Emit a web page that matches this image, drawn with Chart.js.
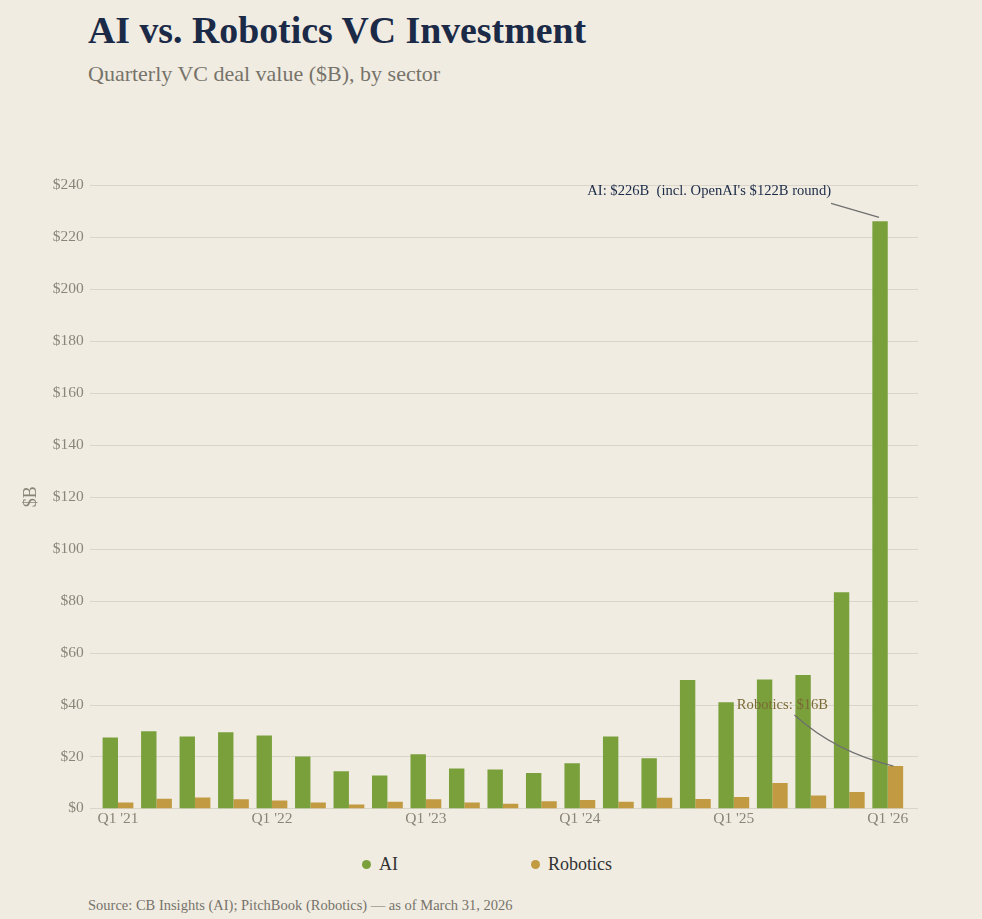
<!DOCTYPE html>
<html>
<head>
<meta charset="utf-8">
<script src="https://cdn.jsdelivr.net/npm/chart.js@4/dist/chart.umd.min.js"></script>
<style>
  html, body { margin: 0; padding: 0; background: #f0ece2; }
  body { width: 982px; height: 919px; position: relative; overflow: hidden; font-family: "Liberation Serif", serif; }
  #title { position: absolute; left: 88px; top: 10px; font-size: 37.8px; line-height: 40px; font-weight: bold; color: #1b2a47; white-space: nowrap; }
  #subtitle { position: absolute; left: 88px; top: 61px; font-size: 22px; line-height: 26px; color: #77736a; white-space: nowrap; }
  #wrap { position: absolute; left: 0; top: 0; width: 982px; height: 845px; }
  #legend { position: absolute; left: -4px; width: 982px; top: 852px; height: 24px; display: flex; justify-content: center; gap: 133px; font-size: 18px; color: #333333; }
  .item { display: flex; align-items: center; white-space: nowrap; }
  .dot { width: 9px; height: 9px; border-radius: 50%; margin-right: 8px; display: inline-block; }
  #source { position: absolute; left: 88px; top: 896px; font-size: 14.5px; line-height: 18px; color: #77736a; white-space: nowrap; }
</style>
</head>
<body>
<div id="title">AI vs. Robotics VC Investment</div>
<div id="subtitle">Quarterly VC deal value ($B), by sector</div>
<div id="wrap"><canvas id="c"></canvas></div>
<div id="legend"></div>
<div id="source">Source: CB Insights (AI); PitchBook (Robotics) — as of March 31, 2026</div>
<script>
const quarters = ["Q1 '21","Q2 '21","Q3 '21","Q4 '21","Q1 '22","Q2 '22","Q3 '22","Q4 '22","Q1 '23","Q2 '23","Q3 '23","Q4 '23","Q1 '24","Q2 '24","Q3 '24","Q4 '24","Q1 '25","Q2 '25","Q3 '25","Q4 '25","Q1 '26"];
const aiValues = [27.3, 29.7, 27.7, 29.3, 28.1, 20.0, 14.3, 12.7, 20.8, 15.4, 15.0, 13.6, 17.4, 27.7, 19.3, 49.4, 40.9, 49.6, 51.4, 83.2, 226];
const roboticsValues = [2.3, 3.7, 4.2, 3.5, 3.0, 2.3, 1.5, 2.6, 3.5, 2.3, 1.8, 2.8, 3.2, 2.6, 4.1, 3.6, 4.4, 9.8, 5.0, 6.3, 16.3];
const seriesNames = ["AI", "Robotics"];
const seriesColors = ["#7aa03c", "#c19a42"];
const yTicks = [0, 20, 40, 60, 80, 100, 120, 140, 160, 180, 200, 220, 240];
const aiNote = "AI: $226B  (incl. OpenAI's $122B round)";
const roboticsNote = "Robotics: $16B";

const FONT = "'Liberation Serif', serif";

const gridPlugin = {
  id: 'customGrid',
  beforeDatasetsDraw(chart) {
    const ctx = chart.ctx, y = chart.scales.y;
    ctx.save();
    ctx.strokeStyle = '#d9d5ca';
    ctx.lineWidth = 1;
    yTicks.forEach(v => {
      const py = Math.round(y.getPixelForValue(v)) + 0.5;
      ctx.beginPath();
      ctx.moveTo(90, py);
      ctx.lineTo(918, py);
      ctx.stroke();
    });
    ctx.restore();
  }
};

const notePlugin = {
  id: 'notes',
  afterDatasetsDraw(chart) {
    const ctx = chart.ctx;
    const last = quarters.length - 1;
    const aiBar = chart.getDatasetMeta(0).data[last];
    const roBar = chart.getDatasetMeta(1).data[last];
    ctx.save();
    ctx.font = "14.6px " + FONT;
    ctx.textBaseline = 'middle';
    ctx.fillStyle = '#1b2a47';
    ctx.textAlign = 'right';
    ctx.fillText(aiNote, aiBar.x - 49, aiBar.y - 30);
    ctx.strokeStyle = '#6f6f6f';
    ctx.lineWidth = 1.2;
    ctx.beginPath();
    ctx.moveTo(aiBar.x - 49, aiBar.y - 18);
    ctx.lineTo(aiBar.x - 1, aiBar.y - 4);
    ctx.stroke();
    ctx.fillStyle = '#7a6a35';
    ctx.textAlign = 'center';
    ctx.fillText(roboticsNote, roBar.x - 113, roBar.y - 61);
    ctx.beginPath();
    ctx.moveTo(roBar.x - 101, roBar.y - 51);
    ctx.quadraticCurveTo(roBar.x - 60, roBar.y - 14, roBar.x - 2, roBar.y);
    ctx.stroke();
    ctx.restore();
  }
};

const chart = new Chart(document.getElementById('c'), {
  type: 'bar',
  data: {
    labels: quarters,
    datasets: [
      { label: seriesNames[0], data: aiValues, backgroundColor: seriesColors[0], borderWidth: 0 },
      { label: seriesNames[1], data: roboticsValues, backgroundColor: seriesColors[1], borderWidth: 0 }
    ]
  },
  options: {
    responsive: true,
    maintainAspectRatio: false,
    animation: false,
    layout: { padding: { left: 20, right: 75, top: 185, bottom: 16 } },
    datasets: { bar: { categoryPercentage: 0.8, barPercentage: 1.0 } },
    plugins: {
      legend: { display: false },
      tooltip: { enabled: false }
    },
    scales: {
      x: {
        grid: { display: false, drawTicks: false },
        border: { display: false },
        ticks: {
          autoSkip: false, maxRotation: 0, padding: 1,
          color: '#8a8577', font: { family: FONT, size: 15.5 },
          callback: (v, i) => (i % 4 === 0 ? quarters[i] : '')
        }
      },
      y: {
        min: 0, max: 240,
        grid: { display: false, drawTicks: false },
        border: { display: false },
        afterFit: s => { s.width = 78.75; },
        afterBuildTicks: s => { s.ticks = yTicks.map(v => ({ value: v })); },
        ticks: {
          padding: 15, color: '#8a8577', font: { family: FONT, size: 15.5 },
          callback: v => '$' + v
        },
        title: { display: true, text: '$B', color: '#8a8577', font: { family: FONT, size: 18 }, padding: { top: 0, bottom: 0 } }
      }
    }
  },
  plugins: [gridPlugin, notePlugin]
});

const legend = document.getElementById('legend');
seriesNames.forEach((n, i) => {
  const it = document.createElement('div');
  it.className = 'item';
  const d = document.createElement('span');
  d.className = 'dot';
  d.style.background = seriesColors[i];
  it.appendChild(d);
  it.appendChild(document.createTextNode(n));
  legend.appendChild(it);
});
</script>
</body>
</html>
